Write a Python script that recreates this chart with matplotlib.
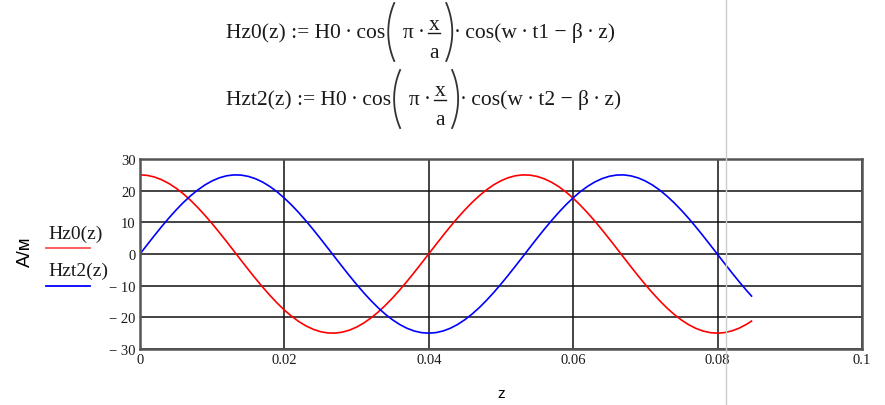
import numpy as np
import matplotlib.pyplot as plt
from matplotlib.lines import Line2D

W, H = 885, 406

# sample points along z
z = [0.000, 0.001, 0.002, 0.003, 0.004, 0.005, 0.006, 0.007, 0.008, 0.009,
     0.010, 0.011, 0.012, 0.013, 0.014, 0.015, 0.016, 0.017, 0.018, 0.019,
     0.020, 0.021, 0.022, 0.023, 0.024, 0.025, 0.026, 0.027, 0.028, 0.029,
     0.030, 0.031, 0.032, 0.033, 0.034, 0.035, 0.036, 0.037, 0.038, 0.039,
     0.040, 0.041, 0.042, 0.043, 0.044, 0.045, 0.046, 0.047, 0.048, 0.049,
     0.050, 0.051, 0.052, 0.053, 0.054, 0.055, 0.056, 0.057, 0.058, 0.059,
     0.060, 0.061, 0.062, 0.063, 0.064, 0.065, 0.066, 0.067, 0.068, 0.069,
     0.070, 0.071, 0.072, 0.073, 0.074, 0.075, 0.076, 0.077, 0.078, 0.079,
     0.080, 0.081, 0.082, 0.083, 0.084, 0.0847]

hz0 = [25.00, 24.83, 24.31, 23.45, 22.27, 20.78, 19.00, 16.97, 14.68, 12.20,
       9.55, 6.77, 3.89, 0.96, -1.99, -4.90, -7.75, -10.49, -13.09, -15.50,
       -17.72, -19.66, -21.34, -22.72, -23.79, -24.53, -24.93, -24.98, -24.68, -24.05,
       -23.08, -21.78, -20.19, -18.31, -16.18, -13.84, -11.29, -8.59, -5.77, -2.87,
       0.07, 3.01, 5.91, 8.73, 11.42, 13.95, 16.30, 18.41, 20.28, 21.86,
       23.13, 24.09, 24.71, 24.98, 24.91, 24.50, 23.74, 22.66, 21.26, 19.57,
       17.60, 15.39, 12.97, 10.36, 7.61, 4.76, 1.84, -1.10, -4.04, -6.91,
       -9.69, -12.33, -14.80, -17.08, -19.10, -20.86, -22.34, -23.50, -24.34, -24.84,
       -25.00, -24.81, -24.27, -23.40, -22.21, -21.19]

hzt2 = [0.00, 2.94, 5.84, 8.66, 11.36, 13.90, 16.25, 18.36, 20.23, 21.82,
        23.10, 24.07, 24.70, 24.98, 24.92, 24.51, 23.77, 22.69, 21.30, 19.61,
        17.63, 15.45, 13.03, 10.43, 7.69, 4.83, 1.91, -1.03, -3.96, -6.84,
        -9.62, -12.27, -14.74, -17.02, -19.06, -20.82, -22.31, -23.48, -24.33, -24.84,
        -25.00, -24.82, -24.29, -23.43, -22.24, -20.74, -18.95, -16.91, -14.62, -12.14,
        -9.48, -6.70, -3.82, -0.89, 2.06, 4.98, 7.83, 10.56, 13.15, 15.56,
        17.76, 19.70, 21.38, 22.75, 23.81, 24.54, 24.93, 24.98, 24.67, 24.03,
        23.05, 21.75, 20.15, 18.26, 16.13, 13.77, 11.23, 8.52, 5.70, 2.80,
        -0.15, -3.08, -5.98, -8.79, -11.49, -13.28]

xticks = [0, 0.02, 0.04, 0.06, 0.08, 0.1]
xtick_labels = ['0', '0.02', '0.04', '0.06', '0.08', '0.1']
yticks = [-30, -20, -10, 0, 10, 20, 30]
ytick_labels = ['\u2212 30', '\u2212 20', '\u2212 10', '0', '10', '20', '30']

serif = ['Liberation Serif', 'DejaVu Serif']
ink = '#1a1a1a'

fig = plt.figure(figsize=(W / 100, H / 100), dpi=100)
ax = fig.add_axes([140 / W, 56 / H, 722 / W, 190 / H])

ax.plot(z, hz0, color='#ff0000', linewidth=1.2)
ax.plot(z, hzt2, color='#0000ff', linewidth=1.2)

ax.set_xlim(0, 0.1)
ax.set_ylim(-30, 30)
ax.set_xticks(xticks)
ax.set_xticklabels(xtick_labels, family=serif, fontsize=10.5, color='#1a1a1a')
ax.set_yticks(yticks)
ax.set_yticklabels(ytick_labels, family=serif, fontsize=10.5, color='#1a1a1a')
ax.tick_params(length=0, pad=3)
ax.grid(True, color='#111111', linewidth=1.1)
ax.set_axisbelow(True)
for s in ax.spines.values():
    s.set_color('#555555')
    s.set_linewidth(1.8)

ax.set_xlabel('z', family='Liberation Sans', fontsize=11, labelpad=14)

# y label and legend to the left of the plot
fig.text(25 / W, 1 - 252 / H, 'A/м', family='Liberation Sans', fontsize=13.5,
         rotation=90, ha='center', va='center')
fig.text(48 / W, 1 - 234 / H, 'Hz0(z)', family=serif, fontsize=14,
         ha='left', va='center', color=ink)
fig.text(48 / W, 1 - 271 / H, 'Hzt2(z)', family=serif, fontsize=14,
         ha='left', va='center', color=ink)
fig.add_artist(Line2D([46 / W, 90 / W], [1 - 249 / H, 1 - 249 / H],
                      color='#ff5050', linewidth=1.3))
fig.add_artist(Line2D([46 / W, 90 / W], [1 - 287 / H, 1 - 287 / H],
                      color='#0000ff', linewidth=1.3))

# formulas above the plot, laid out piece by piece in pixel units
renderer = fig.canvas.get_renderer()
FS = 15.5


def put(s, x, y, ha='left'):
    t = fig.text(x / W, 1 - y / H, s, family=serif, fontsize=FS, color=ink,
                 ha=ha, va='baseline')
    return t.get_window_extent(renderer).width


def paren(x0, top, bot, left=True):
    h2 = (bot - top) / 2
    w = 6.0
    r = (h2 ** 2 + w ** 2) / (2 * w)
    phi = np.linspace(-np.arcsin(h2 / r), np.arcsin(h2 / r), 40)
    if left:
        xs = x0 + r - r * np.cos(phi)
    else:
        xs = x0 + w - r + r * np.cos(phi)
    ys = (top + bot) / 2 + r * np.sin(phi)
    fig.add_artist(Line2D(xs / W, 1 - ys / H, color='#333333', linewidth=1.3))


def formula(name, t, yb):
    x = 226
    x += put(name + ' := H0\u2009·\u2009cos', x, yb)
    x += 3
    paren(x, yb - 34, yb + 24, left=True)
    x += 15
    x += put('π\u2009·', x, yb)
    x += 3
    put('x', x + 6, yb - 8.5, ha='center')
    put('a', x + 6, yb + 20, ha='center')
    fig.add_artist(Line2D([x / W, (x + 12) / W], [1 - (yb - 4) / H, 1 - (yb - 4) / H],
                          color=ink, linewidth=1.0))
    x += 18
    paren(x, yb - 34, yb + 24, left=False)
    x += 8
    put('·\u2009cos(w\u2009·\u2009' + t + ' \u2212 β\u2009·\u2009z)', x, yb)


formula('Hz0(z)', 't1', 38)
formula('Hzt2(z)', 't2', 105)

# light vertical page marker
fig.add_artist(Line2D([726 / W, 726 / W], [0, 1], color='#cccccc', linewidth=1.0))

fig.savefig('out.png', dpi=100)
